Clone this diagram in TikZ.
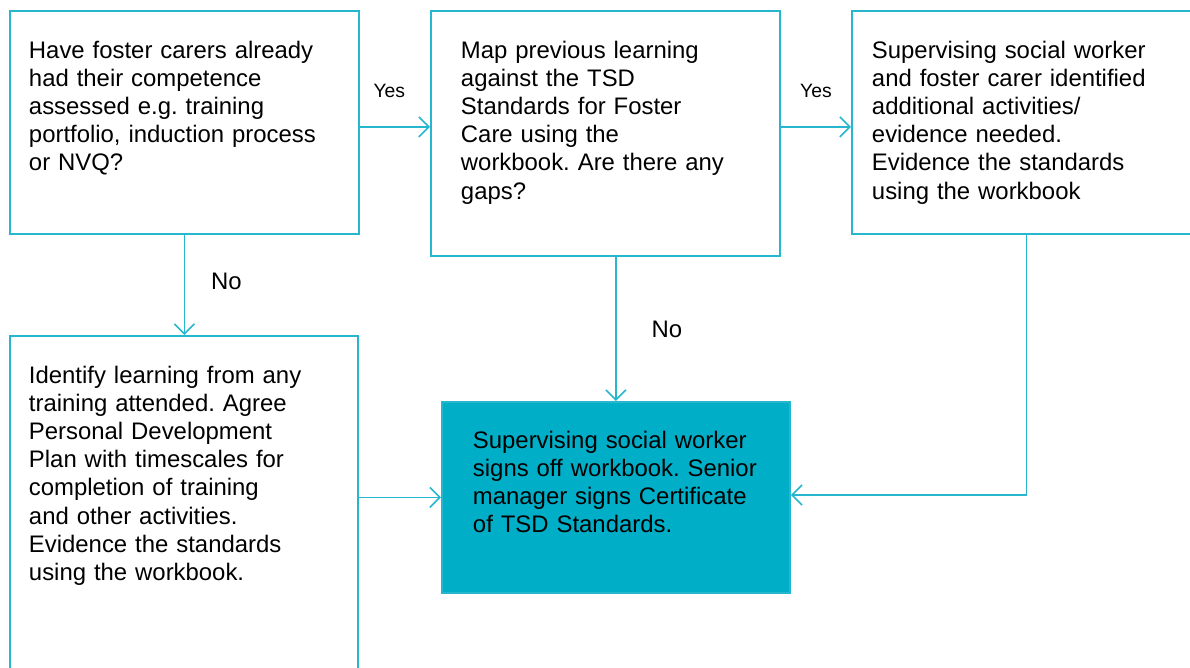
\documentclass[tikz,border=0pt]{standalone}
\usepackage{fontspec}
\setmainfont{Liberation Sans}
\usetikzlibrary{arrows.meta}
\definecolor{linecyan}{RGB}{38,182,205}
\definecolor{boxcyan}{RGB}{0,174,199}
\frenchspacing
\hyphenpenalty=10000
\begin{document}
\begin{tikzpicture}[
    box/.style={draw=linecyan, line width=1.1pt, anchor=north west, align=left, inner ysep=0pt, text height=0.95cm, font=\fontsize{13.6}{16}\selectfont},
    arr/.style={draw=linecyan, line width=0.9pt, -{Straight Barb[length=0.2cm, width=0.4cm]}},
    yeslbl/.style={font=\fontsize{11}{13}\selectfont},
    nolbl/.style={font=\fontsize{13.6}{16}\selectfont}]
    \def\top{13.16}
    \useasboundingbox (0,0) rectangle (23.8,13.36);
    \clip (0,0) rectangle (23.8,13.36);
    \node(have) [box, inner xsep=0.38cm, text width=6.22cm, text depth=3.51cm] at (0.18,\top) {Have foster carers already\\had their competence\\assessed e.g. training\\portfolio, induction process\\or NVQ?};
    \node(map) [box, inner xsep=0.6cm, text width=5.78cm, text depth=3.95cm] at (8.60,\top) {Map previous learning\\against the TSD\\Standards for Foster\\Care using the\\workbook. Are there any\\gaps?};
    \node(extra) [box, inner xsep=0.4cm, text width=6.18cm, text depth=3.51cm] at (17.02,\top) {Supervising social worker\\and foster carer identified\\additional activities/\\evidence needed.\\Evidence the standards\\using the workbook};
    \node(plan) [box, inner xsep=0.38cm, text width=6.2cm, text depth=6.05cm] at (0.18,6.66) {Identify learning from any\\training attended. Agree\\Personal Development\\Plan with timescales for\\completion of training\\and other activities.\\Evidence the standards\\using the workbook.};
    \node(signoff) [box, fill=boxcyan, text height=0.93cm, inner xsep=0.5cm, text width=5.96cm, text depth=2.89cm] at (8.82,5.34) {\hspace*{0.12cm}Supervising social worker\\\hspace*{0.12cm}signs off workbook. Senior\\\hspace*{0.12cm}manager signs Certificate\\\hspace*{0.12cm}of TSD Standards.};
    % connectors
    \coordinate (row) at ([yshift=-0.09cm]have.east);
    \draw[arr] (row) -- (row -| map.west) node[yeslbl, pos=0.42, yshift=0.72cm] {Yes};
    \draw[arr] (row -| map.east) -- (row -| extra.west) node[yeslbl, midway, yshift=0.72cm] {Yes};
    \draw[arr] (have.south) -- (have.south |- plan.north) node[nolbl, pos=0.46, xshift=0.84cm] {No};
    \draw[arr] (signoff.north |- map.south) -- (signoff.north) node[nolbl, midway, xshift=1.02cm] {No};
    \draw[arr] (plan.east |- signoff.west) -- (signoff.west);
    \draw[arr] (extra.south) |- ([yshift=0.05cm]signoff.east);
\end{tikzpicture}
\end{document}
